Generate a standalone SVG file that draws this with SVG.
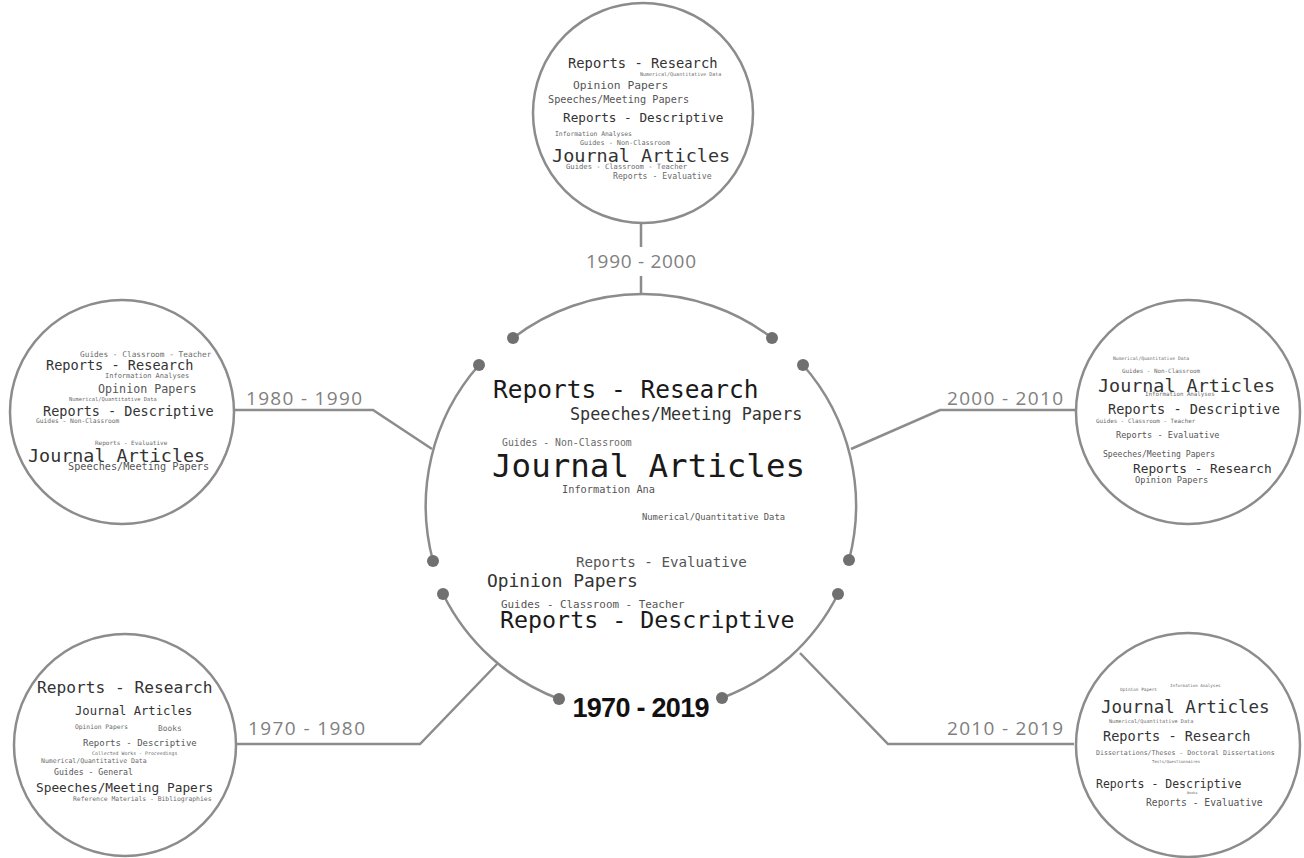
<svg xmlns="http://www.w3.org/2000/svg" width="1304" height="858" viewBox="0 0 1304 858">
<style>
.bg{fill:#ffffff}
.ring{fill:#ffffff;stroke:#8c8c8c;stroke-width:2.5}
.con{fill:none;stroke:#8c8c8c;stroke-width:2.5}
.dot{fill:#707070}
.lbl{font-family:"Open Sans","Liberation Sans",sans-serif;font-size:19px;fill:#808080}
.main{font-family:"Liberation Sans",Arial,sans-serif;font-size:27px;font-weight:bold;fill:#111111}
.w{font-family:"DejaVu Sans Mono","Liberation Mono",monospace}
.c1{fill:#1a1a1a}.c2{fill:#333333}.c3{fill:#555555}.c4{fill:#6a6a6a}
</style>
<rect class="bg" x="0" y="0" width="1304" height="858"/>

<g id="connectors">
<path class="con" d="M641,295 V276 M641,247 V223"/>
<path class="con" d="M234,410 H373 L432,449"/>
<path class="con" d="M1076,410 H940 L851,449"/>
<path class="con" d="M237,744 H420 L498,663"/>
<path class="con" d="M1074,744 H888 L800,653"/>
<text class="lbl" x="641" y="268" text-anchor="middle" textLength="110" lengthAdjust="spacing">1990 - 2000</text>
<text class="lbl" x="246" y="405" textLength="116" lengthAdjust="spacing">1980 - 1990</text>
<text class="lbl" x="947" y="405" textLength="116" lengthAdjust="spacing">2000 - 2010</text>
<text class="lbl" x="248" y="735" textLength="117" lengthAdjust="spacing">1970 - 1980</text>
<text class="lbl" x="947" y="735" textLength="116" lengthAdjust="spacing">2010 - 2019</text>
</g>

<g id="center">
<path class="con" d="M513,338 A213,213 0 0,1 772,338"/>
<path class="con" d="M803,365 A213,213 0 0,1 849,560"/>
<path class="con" d="M838,594 A213,213 0 0,1 722,698"/>
<path class="con" d="M559,699 A213,213 0 0,1 443,594"/>
<path class="con" d="M433,561 A213,213 0 0,1 479,365"/>
<circle class="dot" cx="513" cy="338" r="6"/>
<circle class="dot" cx="772" cy="338" r="6"/>
<circle class="dot" cx="479" cy="365" r="6"/>
<circle class="dot" cx="803" cy="365" r="6"/>
<circle class="dot" cx="433" cy="561" r="6"/>
<circle class="dot" cx="849" cy="560" r="6"/>
<circle class="dot" cx="443" cy="594" r="6"/>
<circle class="dot" cx="838" cy="594" r="6"/>
<circle class="dot" cx="559" cy="699" r="6"/>
<circle class="dot" cx="722" cy="698" r="6"/>
<text class="w c1" x="493" y="398" font-size="24.5">Reports - Research</text>
<text class="w c2" x="570" y="420" font-size="16.8">Speeches/Meeting Papers</text>
<text class="w c4" x="502" y="446" font-size="9.8">Guides - Non-Classroom</text>
<text class="w c1" x="492" y="477" font-size="32.5">Journal Articles</text>
<text class="w c3" x="562" y="493" font-size="10.3">Information Ana</text>
<text class="w c3" x="642" y="520" font-size="8.8">Numerical/Quantitative Data</text>
<text class="w c3" x="576" y="567" font-size="14.2">Reports - Evaluative</text>
<text class="w c2" x="487" y="587" font-size="17.9">Opinion Papers</text>
<text class="w c3" x="501" y="608" font-size="10.9">Guides - Classroom - Teacher</text>
<text class="w c1" x="500" y="628" font-size="23.3">Reports - Descriptive</text>
<text class="main" x="641" y="717" text-anchor="middle" textLength="137" lengthAdjust="spacing">1970 - 2019</text>
</g>

<g id="node-1990-2000">
<circle class="ring" cx="643" cy="113" r="110"/>
<text class="w c2" x="568" y="68" font-size="13.8">Reports - Research</text>
<text class="w c4" x="640" y="76" font-size="5">Numerical/Quantitative Data</text>
<text class="w c3" x="573" y="89" font-size="11.3">Opinion Papers</text>
<text class="w c3" x="548" y="103" font-size="10.2">Speeches/Meeting Papers</text>
<text class="w c2" x="563" y="122" font-size="12.7">Reports - Descriptive</text>
<text class="w c4" x="555" y="136" font-size="6.4">Information Analyses</text>
<text class="w c4" x="580" y="145" font-size="6.8">Guides - Non-Classroom</text>
<text class="w c2" x="552" y="162" font-size="18.5">Journal Articles</text>
<text class="w c4" x="566" y="169" font-size="7.2">Guides - Classroom - Teacher</text>
<text class="w c4" x="613" y="179" font-size="8.2">Reports - Evaluative</text>
</g>

<g id="node-1980-1990">
<circle class="ring" cx="122" cy="412" r="112"/>
<text class="w c4" x="80" y="357" font-size="7.8">Guides - Classroom - Teacher</text>
<text class="w c2" x="46" y="370" font-size="13.6">Reports - Research</text>
<text class="w c4" x="105" y="378" font-size="7">Information Analyses</text>
<text class="w c3" x="98" y="393" font-size="11.7">Opinion Papers</text>
<text class="w c4" x="69" y="401" font-size="5.4">Numerical/Quantitative Data</text>
<text class="w c2" x="43" y="416" font-size="13.5">Reports - Descriptive</text>
<text class="w c4" x="36" y="423" font-size="6.3">Guides - Non-Classroom</text>
<text class="w c4" x="95" y="445" font-size="6">Reports - Evaluative</text>
<text class="w c2" x="28" y="462" font-size="18.4">Journal Articles</text>
<text class="w c3" x="68" y="470" font-size="10.2">Speeches/Meeting Papers</text>
</g>

<g id="node-2000-2010">
<circle class="ring" cx="1188" cy="412" r="112"/>
<text class="w c4" x="1113" y="360" font-size="4.7">Numerical/Quantitative Data</text>
<text class="w c4" x="1122" y="373" font-size="5.9">Guides - Non-Classroom</text>
<text class="w c2" x="1098" y="392" font-size="18.4">Journal Articles</text>
<text class="w c4" x="1145" y="396" font-size="5.8">Information Analyses</text>
<text class="w c2" x="1108" y="414" font-size="13.6">Reports - Descriptive</text>
<text class="w c4" x="1096" y="423" font-size="5.9">Guides - Classroom - Teacher</text>
<text class="w c3" x="1116" y="438" font-size="8.6">Reports - Evaluative</text>
<text class="w c3" x="1103" y="457" font-size="8.1">Speeches/Meeting Papers</text>
<text class="w c2" x="1133" y="473" font-size="12.8">Reports - Research</text>
<text class="w c3" x="1135" y="483" font-size="8.7">Opinion Papers</text>
</g>

<g id="node-1970-1980">
<circle class="ring" cx="125" cy="745" r="111"/>
<text class="w c2" x="37" y="693" font-size="16.2">Reports - Research</text>
<text class="w c2" x="75" y="715" font-size="12.2">Journal Articles</text>
<text class="w c4" x="75" y="729" font-size="6.3">Opinion Papers</text>
<text class="w c4" x="158" y="731" font-size="7.9">Books</text>
<text class="w c3" x="83" y="746" font-size="9">Reports - Descriptive</text>
<text class="w c4" x="92" y="755" font-size="4.9">Collected Works - Proceedings</text>
<text class="w c4" x="41" y="763" font-size="6.5">Numerical/Quantitative Data</text>
<text class="w c3" x="54" y="775" font-size="8.2">Guides - General</text>
<text class="w c2" x="36" y="792" font-size="12.8">Speeches/Meeting Papers</text>
<text class="w c4" x="73" y="801" font-size="6.4">Reference Materials - Bibliographies</text>
</g>

<g id="node-2010-2019">
<circle class="ring" cx="1188" cy="745" r="112"/>
<text class="w c4" x="1120" y="691" font-size="4.4">Opinion Papers</text>
<text class="w c4" x="1170" y="687" font-size="4.2">Information Analyses</text>
<text class="w c2" x="1101" y="713" font-size="17.5">Journal Articles</text>
<text class="w c4" x="1109" y="723" font-size="5.2">Numerical/Quantitative Data</text>
<text class="w c2" x="1103" y="741" font-size="13.6">Reports - Research</text>
<text class="w c4" x="1096" y="755" font-size="6.6">Dissertations/Theses - Doctoral Dissertations</text>
<text class="w c4" x="1152" y="763" font-size="4">Tests/Questionnaires</text>
<text class="w c2" x="1096" y="788" font-size="11.5">Reports - Descriptive</text>
<text class="w c4" x="1187" y="794" font-size="3.5">Books</text>
<text class="w c3" x="1146" y="806" font-size="9.7">Reports - Evaluative</text>
</g>
</svg>
